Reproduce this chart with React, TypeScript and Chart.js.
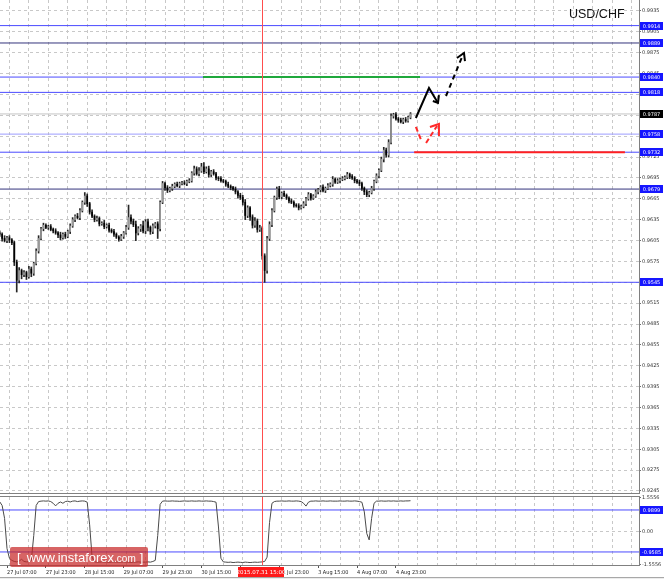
import React, { useEffect, useRef } from 'react';
import { Chart, registerables } from 'chart.js';
Chart.register(...registerables);

// ---------------- data ----------------
const symbol = 'USD/CHF';
const firstBar = -3; // bar index of first candle (27 Jul 07:00 = bar 0, H1 bars)
const firstOpen = 0.9616;
const closes = [
  0.9614, 0.9608, 0.9605, 0.9609, 0.9606, 0.9602, 0.9574, 0.9548, 0.9562, 0.9556,
  0.9559, 0.9553, 0.9564, 0.9558, 0.9572, 0.9590, 0.9608, 0.9622, 0.9627, 0.9624,
  0.9625, 0.9621, 0.9619, 0.9616, 0.9613, 0.9609, 0.9614, 0.9611, 0.9618, 0.9626,
  0.9635, 0.9640, 0.9638, 0.9648, 0.9660, 0.9669, 0.9658, 0.9646, 0.9640, 0.9635,
  0.9637, 0.9629, 0.9630, 0.9625, 0.9627, 0.9620, 0.9618, 0.9614, 0.9610, 0.9607,
  0.9611, 0.9616, 0.9624, 0.9638, 0.9633, 0.9628, 0.9616, 0.9622, 0.9626, 0.9619,
  0.9632, 0.9624, 0.9618, 0.9626, 0.9629, 0.9622, 0.9660, 0.9687, 0.9681, 0.9677,
  0.9680, 0.9683, 0.9686, 0.9684, 0.9687, 0.9688, 0.9687, 0.9690, 0.9691, 0.9702,
  0.9708, 0.9701, 0.9705, 0.9711, 0.9704, 0.9708, 0.9700, 0.9704, 0.9701, 0.9695,
  0.9694, 0.9691, 0.9690, 0.9686, 0.9683, 0.9681, 0.9679, 0.9675, 0.9670, 0.9667,
  0.9660, 0.9641, 0.9652, 0.9639, 0.9627, 0.9633, 0.9621, 0.9623, 0.9583, 0.9562,
  0.9608, 0.9628, 0.9648, 0.9667, 0.9679, 0.9668, 0.9673, 0.9670, 0.9666, 0.9662,
  0.9660, 0.9656, 0.9655, 0.9652, 0.9654, 0.9658, 0.9665, 0.9671, 0.9666, 0.9669,
  0.9675, 0.9678, 0.9682, 0.9677, 0.9680, 0.9684, 0.9686, 0.9693, 0.9689, 0.9691,
  0.9693, 0.9694, 0.9696, 0.9700, 0.9697, 0.9695, 0.9691, 0.9689, 0.9687, 0.9680,
  0.9675, 0.9671, 0.9674, 0.9680, 0.9690, 0.9698, 0.9706, 0.9722, 0.9735, 0.9728,
  0.9746, 0.9784, 0.9786, 0.9780, 0.9778, 0.9776, 0.9779, 0.9777, 0.9782, 0.9787,
];
// upper / lower shadow lengths in pips
const wickUpPips = [
  3, 2, 4, 2, 3, 2, 2, 3, 4, 2,
  3, 2, 4, 3, 2, 3, 4, 2, 3, 2,
  2, 3, 2, 3, 2, 4, 2, 3, 2, 3,
  3, 2, 4, 3, 2, 5, 3, 2, 3, 2,
  3, 2, 2, 4, 2, 3, 2, 3, 2, 2,
  3, 2, 3, 18, 4, 3, 5, 3, 2, 7,
  3, 4, 2, 3, 2, 3, 2, 3, 2, 3,
  2, 3, 2, 3, 2, 2, 3, 2, 3, 2,
  4, 3, 5, 5, 6, 3, 4, 2, 3, 2,
  2, 3, 2, 2, 3, 2, 2, 3, 2, 3,
  3, 4, 3, 2, 3, 5, 3, 4, 2, 3,
  3, 4, 3, 2, 3, 4, 2, 3, 2, 2,
  3, 2, 2, 3, 2, 3, 2, 3, 2, 2,
  3, 2, 2, 3, 2, 3, 2, 4, 2, 3,
  2, 3, 2, 3, 2, 3, 2, 2, 3, 2,
  2, 3, 2, 3, 2, 3, 2, 3, 4, 3,
  4, 3, 2, 3, 2, 3, 2, 3, 2, 2,
];
const wickDownPips = [
  3, 4, 2, 3, 4, 3, 5, 17, 4, 6,
  3, 4, 2, 5, 3, 2, 3, 2, 3, 2,
  3, 2, 3, 2, 4, 3, 2, 3, 2, 3,
  2, 3, 2, 3, 2, 3, 4, 3, 2, 3,
  2, 3, 2, 3, 2, 3, 2, 3, 2, 3,
  2, 3, 2, 3, 4, 3, 11, 3, 4, 3,
  4, 5, 4, 3, 3, 14, 3, 2, 4, 3,
  2, 3, 2, 2, 3, 2, 2, 3, 2, 2,
  3, 2, 3, 2, 3, 2, 4, 3, 2, 3,
  3, 2, 2, 3, 2, 3, 2, 3, 4, 3,
  4, 6, 3, 5, 4, 3, 4, 3, 5, 17,
  4, 3, 3, 2, 3, 3, 3, 2, 2, 3,
  2, 3, 2, 3, 2, 2, 3, 2, 3, 2,
  2, 3, 3, 2, 3, 2, 2, 3, 2, 2,
  3, 2, 2, 2, 3, 2, 3, 2, 3, 3,
  4, 3, 3, 2, 3, 2, 3, 2, 4, 3,
  3, 2, 3, 2, 3, 2, 3, 2, 2, 2,
];
const oscillator = [
  1.37, 1.20, 0.60, -0.80, -1.25, -1.35, -1.40, -1.42, -1.38, -1.30,
  -1.40, -1.42, -1.41, -1.36, -0.20, 1.20, 1.38, 1.40, 1.41, 1.40,
  1.41, 1.38, 1.30, 1.18, 1.30, 1.36, 1.30, 1.38, 1.40, 1.36,
  1.40, 1.41, 1.38, 1.40, 1.41, 1.40, 1.35, 0.30, -1.20, -1.42,
  -1.43, -1.43, -1.42, -1.43, -1.43, -1.44, -1.43, -1.42, -1.43, -1.43,
  -1.43, -1.42, -1.43, -1.43, -1.44, -1.43, -1.43, -1.42, -1.43, -1.43,
  -1.43, -1.42, -1.43, -1.40, -1.35, -0.20, 1.25, 1.40, 1.41, 1.40,
  1.40, 1.41, 1.40, 1.40, 1.39, 1.40, 1.41, 1.40, 1.40, 1.41,
  1.40, 1.40, 1.41, 1.40, 1.40, 1.41, 1.40, 1.40, 1.38, 1.35,
  0.20, -1.25, -1.42, -1.43, -1.44, -1.43, -1.45, -1.44, -1.43, -1.44,
  -1.45, -1.43, -1.44, -1.45, -1.44, -1.43, -1.44, -1.43, -1.42, -1.40,
  -1.20, 0.40, 1.30, 1.38, 1.40, 1.40, 1.41, 1.40, 1.40, 1.41,
  1.40, 1.40, 1.41, 1.40, 1.38, 1.30, 1.17, 1.35, 1.40, 1.40,
  1.41, 1.40, 1.40, 1.41, 1.40, 1.40, 1.41, 1.40, 1.40, 1.40,
  1.41, 1.40, 1.40, 1.41, 1.40, 1.40, 1.41, 1.40, 1.38, 1.35,
  0.90, -0.10, -0.40, 0.60, 1.30, 1.40, 1.40, 1.41, 1.40, 1.40,
  1.41, 1.40, 1.41, 1.40, 1.40, 1.41, 1.40, 1.41, 1.41, 1.42,
];

const priceTicks = [
  0.9245, 0.9275, 0.9305, 0.9335, 0.9365, 0.9395, 0.9425, 0.9455, 0.9485, 0.9515,
  0.9545, 0.9575, 0.9605, 0.9635, 0.9665, 0.9695, 0.9725, 0.9755, 0.9785, 0.9815,
  0.9845, 0.9875, 0.9905, 0.9935,
];
const oscTicks = [-1.5556, 0, 1.5556];
const oscTickLabels = ['-1.5556', '0.00', '1.5556'];
const timeLabels = [
  '27 Jul 07:00', '27 Jul 23:00', '28 Jul 15:00', '29 Jul 07:00', '29 Jul 23:00',
  '30 Jul 15:00', '31 Jul 07:00', '31 Jul 23:00', '3 Aug 15:00', '4 Aug 07:00', '4 Aug 23:00',
];
const timeLabelBars = [0, 16, 32, 48, 64, 80, 96, 112, 128, 144, 160];
const levelValues = [0.9914, 0.9889, 0.9840, 0.9818, 0.9758, 0.9732, 0.9679, 0.9545];
const bidPrice = 0.9787;
const oscLevels = [0.9899, -0.9585];
const markerBar = 105;
const markerLabel = '2015.07.31 15:00';
const greenSegment = [[80.6, 0.9840], [169.9, 0.9840]];
const redSegment = [[167.5, 0.9732], [254.2, 0.9732]];
const blackArrowPath = [[168.2, 0.97812], [173.6, 0.98243], [177.3, 0.98028]];
const blackArrowHead = [[175.2, 0.98056], [177.3, 0.98028], [177.7, 0.98142]];
const blackDashPath = [[180.6, 0.98128], [187.2, 0.98689]];
const blackDashHead = [[185.1, 0.98674], [188.0, 0.98746], [188.4, 0.98631]];
const redDashDown = [[168.2, 0.97683], [170.7, 0.97467]];
const redDashUp = [[172.4, 0.97453], [176.9, 0.97697]];
const redArrowHead = [[174.0, 0.97683], [177.7, 0.97726], [177.7, 0.97553]];

// ---------------- layout / style ----------------
const X_MIN = -2.88;
const X_MAX = 260;
const Y_MIN = 0.92421;
const Y_MAX = 0.99508;
const OSC_MIN = -1.564;
const OSC_MAX = 1.592;
const GRID = '#c8c8c8';
const FRAME = '#808080';
const levelColors = ['#4b4bff', '#34347c', '#4b4bff', '#4b4bff', '#9d9dff', '#4b4bff', '#34347c', '#4b4bff'];
const TAG_BLUE = '#1616ff';
const BULL = '#9a9a9a';
const BEAR = '#000000';

const pts = (arr: number[][]) => arr.map(([x, y]) => ({ x, y }));
const gridBars: number[] = [];
for (let b = 1; b <= X_MAX; b += 8) gridBars.push(b);

function buildCandles() {
  const bodies: any[] = [];
  const wicks: any[] = [];
  const colors: string[] = [];
  let open = firstOpen;
  closes.forEach((c, i) => {
    const x = firstBar + i;
    const top = Math.max(open, c);
    const bot = Math.min(open, c);
    bodies.push({ x, y: [bot, top - bot < 0.00002 ? bot + 0.00002 : top] });
    wicks.push({ x, y: [bot - wickDownPips[i] * 0.0001, top + wickUpPips[i] * 0.0001] });
    colors.push(c >= open ? BULL : BEAR);
    open = c;
  });
  return { bodies, wicks, colors };
}

function drawTag(ctx: CanvasRenderingContext2D, left: number, yc: number, w: number, h: number, bg: string, text: string) {
  const top = Math.round(yc - h / 2);
  ctx.fillStyle = bg;
  ctx.fillRect(left, top, w, h);
  ctx.fillStyle = '#ffffff';
  ctx.font = "5px 'DejaVu Sans'";
  ctx.textAlign = 'center';
  ctx.textBaseline = 'middle';
  ctx.fillText(text, left + w / 2, top + h / 2 + 0.5);
}

function vline(ctx: CanvasRenderingContext2D, x: number, y0: number, y1: number, color: string) {
  ctx.strokeStyle = color;
  ctx.lineWidth = 1;
  ctx.setLineDash([]);
  ctx.beginPath();
  ctx.moveTo(x, y0);
  ctx.lineTo(x, y1);
  ctx.stroke();
}
function hline(ctx: CanvasRenderingContext2D, y: number, x0: number, x1: number, color: string) {
  ctx.strokeStyle = color;
  ctx.lineWidth = 1;
  ctx.setLineDash([]);
  ctx.beginPath();
  ctx.moveTo(x0, y);
  ctx.lineTo(x1, y);
  ctx.stroke();
}

const mainOverlay = {
  id: 'mainOverlay',
  afterDatasetsDraw(chart: any) {
    const { ctx, chartArea: a, scales } = chart;
    ctx.save();
    const mx = Math.round(scales.x.getPixelForValue(markerBar)) + 0.5;
    vline(ctx, mx, a.top, a.bottom, '#ff4d4d');
    ctx.restore();
  },
  afterDraw(chart: any) {
    const { ctx, chartArea: a, scales } = chart;
    ctx.save();
    vline(ctx, a.right + 0.5, 0, a.bottom + 1, FRAME);
    hline(ctx, a.bottom + 0.5, 0, a.right + 1, FRAME);
    levelValues.forEach((v) => {
      drawTag(ctx, a.right + 1, scales.y.getPixelForValue(v), 23, 8, TAG_BLUE, v.toFixed(4));
    });
    drawTag(ctx, a.right + 1, scales.y.getPixelForValue(bidPrice), 23, 8, '#000000', bidPrice.toFixed(4));
    ctx.restore();
  },
};

const oscOverlay = {
  id: 'oscOverlay',
  afterDatasetsDraw(chart: any) {
    const { ctx, chartArea: a, scales } = chart;
    ctx.save();
    const mx = Math.round(scales.x.getPixelForValue(markerBar)) + 0.5;
    vline(ctx, mx, a.top, a.bottom, '#ff4d4d');
    ctx.restore();
  },
  afterDraw(chart: any) {
    const { ctx, chartArea: a, scales } = chart;
    ctx.save();
    hline(ctx, a.top - 0.5, 0, a.right + 1, FRAME);
    hline(ctx, a.bottom + 0.5, 0, a.right + 1, FRAME);
    vline(ctx, a.right + 0.5, a.top - 1, a.bottom + 1, FRAME);
    oscLevels.forEach((v) => {
      drawTag(ctx, a.right + 1, scales.y.getPixelForValue(v), 23, 8, TAG_BLUE, v.toFixed(4));
    });
    // date tag of the marker line
    const mx = scales.x.getPixelForValue(markerBar);
    const w = 46;
    ctx.fillStyle = '#ff1a1a';
    ctx.fillRect(Math.round(mx - w / 2) - 1, a.bottom + 2, w, 10);
    ctx.fillStyle = '#ffffff';
    ctx.font = "5.5px 'DejaVu Sans'";
    ctx.textAlign = 'center';
    ctx.textBaseline = 'middle';
    ctx.fillText(markerLabel, Math.round(mx - w / 2) - 1 + w / 2, a.bottom + 7.5);
    ctx.restore();
  },
};

function lineDs(data: any[], color: string, width: number, order: number, dash?: number[]) {
  return {
    type: 'line',
    data,
    borderColor: color,
    borderWidth: width,
    borderDash: dash || [],
    pointRadius: 0,
    fill: false,
    tension: 0,
    order,
    xAxisID: 'x',
    yAxisID: 'y',
  };
}

export default function App() {
  const mainRef = useRef<HTMLCanvasElement>(null);
  const oscRef = useRef<HTMLCanvasElement>(null);

  useEffect(() => {
    Chart.defaults.font.family = "'DejaVu Sans', sans-serif";
    const { bodies, wicks, colors } = buildCandles();

    const mainDatasets: any[] = [
      ...levelValues.map((v, i) => lineDs([{ x: X_MIN, y: v }, { x: X_MAX, y: v }], levelColors[i], 1, 8)),
      lineDs([{ x: X_MIN, y: bidPrice }, { x: X_MAX, y: bidPrice }], '#c4c4c4', 1, 9),
      {
        type: 'bar', data: wicks, backgroundColor: '#262626', grouped: false,
        barThickness: 1, maxBarThickness: 1, order: 4, xAxisID: 'x', yAxisID: 'y',
      },
      {
        type: 'bar', data: bodies, backgroundColor: colors, grouped: false,
        barThickness: 1, maxBarThickness: 2, order: 3, xAxisID: 'x', yAxisID: 'y',
      },
      lineDs(pts(greenSegment), '#1fa83c', 2, 2),
      lineDs(pts(redSegment), '#ff2020', 2, 2),
      lineDs(pts(blackArrowPath), '#000000', 2, 0),
      lineDs(pts(blackArrowHead), '#000000', 2, 0),
      lineDs(pts(blackDashPath), '#000000', 2, 0, [5, 4]),
      lineDs(pts(blackDashHead), '#000000', 2, 0),
      lineDs(pts(redDashDown), '#ff2a2a', 2, 0, [5, 3]),
      lineDs(pts(redDashUp), '#ff2a2a', 2, 0, [5, 3]),
      lineDs(pts(redArrowHead), '#ff2a2a', 2, 0),
    ];

    const main = new Chart(mainRef.current as HTMLCanvasElement, {
      type: 'bar',
      data: { datasets: mainDatasets },
      options: {
        responsive: false,
        animation: false,
        events: [],
        layout: { padding: { top: 0, left: 0, right: 0, bottom: 1 } },
        plugins: { legend: { display: false }, tooltip: { enabled: false } },
        scales: {
          x: {
            type: 'linear', min: X_MIN, max: X_MAX, offset: false,
            grid: { offset: false, color: GRID, drawTicks: false },
            border: { display: false, dash: [3, 3] },
            ticks: { display: false },
            afterBuildTicks: (s: any) => { s.ticks = gridBars.map((v) => ({ value: v })); },
            afterFit: (s: any) => { s.height = 0; s.paddingLeft = 0; s.paddingRight = 0; },
          },
          y: {
            type: 'linear', position: 'right', min: Y_MIN, max: Y_MAX, beginAtZero: false,
            grid: { color: GRID, tickLength: 2, tickColor: '#707070' },
            border: { display: false, dash: [3, 3] },
            ticks: {
              autoSkip: false, padding: 1, color: '#333333',
              font: { size: 5, family: "'DejaVu Sans'" },
              callback: (v: any) => Number(v).toFixed(4),
            },
            afterBuildTicks: (s: any) => { s.ticks = priceTicks.map((v) => ({ value: v })); },
            afterFit: (s: any) => { s.width = 25; s.paddingTop = 0; s.paddingBottom = 0; },
          },
        },
      } as any,
      plugins: [mainOverlay],
    } as any);

    const osc = new Chart(oscRef.current as HTMLCanvasElement, {
      type: 'line',
      data: {
        datasets: [
          ...oscLevels.map((v) => lineDs([{ x: X_MIN, y: v }, { x: X_MAX, y: v }], '#4b4bff', 1, 2)),
          lineDs(oscillator.map((v, i) => ({ x: firstBar + i, y: v })), '#4a4a4a', 1, 0),
        ],
      },
      options: {
        responsive: false,
        animation: false,
        events: [],
        layout: { padding: { top: 3, left: 0, right: 0, bottom: 0 } },
        plugins: { legend: { display: false }, tooltip: { enabled: false } },
        scales: {
          x: {
            type: 'linear', min: X_MIN, max: X_MAX, offset: false,
            grid: { offset: false, color: GRID, drawTicks: false },
            border: { display: false, dash: [3, 3] },
            ticks: { display: false },
            afterBuildTicks: (s: any) => { s.ticks = gridBars.map((v) => ({ value: v })); },
            afterFit: (s: any) => { s.height = 0; s.paddingLeft = 0; s.paddingRight = 0; },
          },
          xt: {
            type: 'linear', axis: 'x', position: 'bottom', min: X_MIN, max: X_MAX, offset: false,
            grid: { drawOnChartArea: false, drawTicks: true, tickLength: 3, tickColor: '#555555', offset: false },
            border: { display: false },
            ticks: {
              autoSkip: false, maxRotation: 0, minRotation: 0, align: 'start', padding: 1,
              color: '#222222',
              font: { size: 5.5, family: "'DejaVu Sans Condensed', 'Liberation Sans Narrow', 'Liberation Sans'" },
              callback: (_v: any, i: number) => timeLabels[i],
            },
            afterBuildTicks: (s: any) => { s.ticks = timeLabelBars.map((v) => ({ value: v })); },
            afterFit: (s: any) => { s.height = 14; s.paddingLeft = 0; s.paddingRight = 0; },
          },
          y: {
            type: 'linear', position: 'right', min: OSC_MIN, max: OSC_MAX,
            grid: {
              color: (c: any) => (c.tick && c.tick.value === 0 ? GRID : 'rgba(0,0,0,0)'),
              tickLength: 2, tickColor: '#707070',
            },
            border: { display: false, dash: [3, 3] },
            ticks: {
              autoSkip: false, padding: 1, color: '#333333',
              font: { size: 5, family: "'DejaVu Sans'" },
              callback: (_v: any, i: number) => oscTickLabels[i],
            },
            afterBuildTicks: (s: any) => { s.ticks = oscTicks.map((v) => ({ value: v })); },
            afterFit: (s: any) => { s.width = 25; s.paddingTop = 0; s.paddingBottom = 0; },
          },
        },
      } as any,
      plugins: [oscOverlay],
    } as any);

    return () => { main.destroy(); osc.destroy(); };
  }, []);

  return (
    <div style={{ position: 'fixed', left: 0, top: 0, width: 664, height: 579, background: '#ffffff', overflow: 'hidden' }}>
      <canvas ref={mainRef} width={664} height={494} style={{ position: 'absolute', left: 0, top: 0, display: 'block' }} />
      <canvas ref={oscRef} width={664} height={85} style={{ position: 'absolute', left: 0, top: 494, display: 'block' }} />
      <div style={{
        position: 'absolute', left: 569, top: 8, fontFamily: "'Liberation Sans', Arial, sans-serif",
        fontSize: 12.5, lineHeight: '13px', color: '#111111', whiteSpace: 'nowrap',
      }}>{symbol}</div>
      <div style={{
        position: 'absolute', left: 10, top: 547, width: 138, height: 20, background: 'rgba(200,40,40,0.72)',
        borderRadius: 2, display: 'flex', alignItems: 'center', color: '#ffffff', whiteSpace: 'nowrap',
        fontFamily: "'Liberation Sans', Arial, sans-serif", boxSizing: 'border-box', paddingLeft: 7,
      }}>
        <span style={{ fontSize: 13 }}>[</span>
        <span style={{ fontSize: 13, marginLeft: 6 }}>www.instaforex</span>
        <span style={{ fontSize: 10, marginTop: 2 }}>.com</span>
        <span style={{ fontSize: 13, marginLeft: 4 }}>]</span>
      </div>
      <div style={{ position: 'absolute', left: 0, top: 577, width: 664, height: 1, background: '#a8a8a8' }} />
      <div style={{ position: 'absolute', left: 0, top: 578, width: 664, height: 1, background: '#ececec' }} />
    </div>
  );
}
